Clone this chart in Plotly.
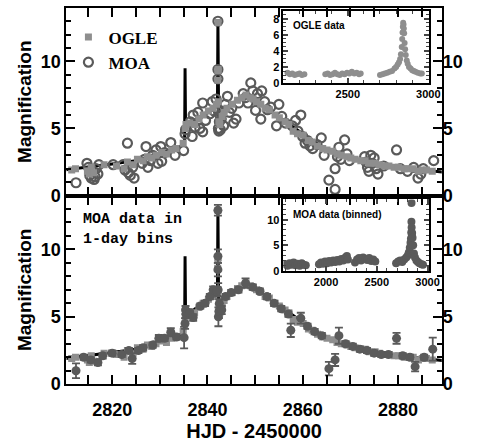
import plotly.graph_objects as go

# ---------------- data ----------------
model_x = [2810, 2815, 2820, 2825, 2828, 2831, 2834, 2835.2, 2835.3, 2835.4, 2837, 2839, 2841,
           2842.1, 2842.2, 2842.35, 2843, 2845, 2847, 2848.3, 2850, 2852, 2854, 2856, 2858,
           2860, 2862, 2865, 2868, 2872, 2876, 2880, 2884, 2889.5]
model_y = [1.9, 2.1, 2.35, 2.6, 2.9, 3.25, 3.6, 3.85, 9.5, 5.2, 5.5, 5.95, 6.4,
           6.8, 13.0, 5.7, 6.1, 6.8, 7.3, 7.45, 7.1, 6.6, 6.1, 5.6, 5.1,
           4.6, 4.1, 3.45, 3.0, 2.6, 2.3, 2.1, 1.95, 1.75]

ogle_x = [2811.5, 2812.3, 2814.8, 2815.2, 2815.6, 2816.1, 2818.3, 2820.9, 2822.5, 2823.2, 2824.4,
          2825.3, 2826.5, 2827.4, 2828.3, 2829.2, 2830.4, 2831.4, 2832.5, 2833.4, 2834.9, 2835.35,
          2835.5, 2836.3, 2837.3, 2838.2, 2839.1, 2840.2, 2841.2, 2841.9, 2842.15, 2842.18, 2842.22,
          2842.25, 2842.3, 2842.4, 2842.6, 2843.1, 2843.5, 2844.1, 2845.2, 2846.3, 2847.2, 2848.1,
          2849.0, 2849.6, 2850.3, 2851.2, 2852.1, 2853.0, 2854.2, 2855.1, 2856.3, 2857.1, 2858.0,
          2858.9, 2860.1, 2861.2, 2862.0, 2863.1, 2864.2, 2865.1, 2866.3, 2867.2, 2868.1, 2869.3,
          2870.1, 2871.0, 2872.2, 2873.1, 2874.0, 2875.2, 2876.1, 2877.3, 2878.1, 2879.2, 2880.1,
          2881.3, 2882.1, 2883.2, 2884.3, 2885.1, 2886.0, 2887.2]
ogle_y = [1.9, 2.0, 1.8, 1.6, 2.1, 1.7, 2.3, 2.2, 2.0, 2.5, 2.3,
          2.7, 2.6, 2.9, 2.8, 3.0, 3.2, 3.1, 3.4, 3.5, 3.9, 5.0,
          5.3, 5.4, 5.3, 5.7, 6.0, 6.3, 6.5, 6.8, 8.6, 9.3, 12.9,
          9.4, 7.0, 5.5, 5.3, 5.9, 6.2, 6.5, 6.8, 7.1, 7.3, 7.5,
          7.3, 7.2, 7.0, 6.8, 6.5, 6.4, 6.0, 5.8, 5.5, 5.3, 4.8,
          4.6, 4.5, 4.1, 4.0, 3.7, 3.5, 3.4, 3.3, 3.1, 3.0, 2.9,
          2.8, 2.7, 2.6, 2.6, 2.4, 2.4, 2.3, 2.2, 2.2, 2.1, 2.1,
          2.0, 2.0, 2.0, 1.8, 1.9, 1.9, 1.8]
OGLE_ERR = 0.15

moa_x = [2812.4, 2814.7, 2815.0, 2815.3, 2815.6, 2815.9, 2816.2, 2816.4, 2816.6, 2817.0, 2817.2,
         2820.2, 2822.3, 2822.7, 2823.2, 2823.4, 2823.8, 2824.3, 2824.6,
         2826.3, 2826.8, 2827.1, 2827.5, 2828.0, 2828.5, 2829.2, 2829.6, 2830.2, 2830.4, 2831.0,
         2832.3, 2833.2, 2835.0, 2835.3, 2835.4, 2836.4, 2836.8, 2837.0, 2837.4, 2838.0, 2838.4,
         2839.0, 2839.0, 2839.6, 2840.5, 2841.0, 2841.4, 2841.8, 2842.0, 2842.2, 2842.2, 2842.2,
         2842.3, 2842.4, 2842.5, 2842.6, 2842.7, 2842.9, 2843.1, 2843.4, 2843.7, 2844.2, 2844.6,
         2845.1, 2845.5, 2846.0, 2846.6, 2847.5, 2848.0, 2848.5, 2849.1, 2849.5, 2850.1, 2850.5,
         2851.2, 2851.4, 2852.0, 2852.6, 2853.3, 2854.5, 2855.0, 2855.6, 2856.4, 2857.8, 2858.5,
         2859.0, 2859.6, 2860.0, 2860.5, 2861.0, 2861.5, 2862.1, 2863.0, 2863.9, 2864.5, 2865.5,
         2866.8, 2866.8, 2867.3, 2867.6, 2868.0, 2868.8, 2869.3, 2869.8, 2873.0, 2873.3, 2873.6,
         2873.9, 2874.3, 2874.6, 2875.0, 2875.4, 2875.8, 2877.0, 2879.7, 2880.5, 2882.0, 2883.3,
         2884.2, 2884.8, 2885.3, 2887.5]
moa_y = [0.95, 2.4, 2.1, 1.5, 1.3, 1.8, 1.2, 1.4, 2.0, 1.6, 2.3,
         2.3, 2.3, 1.9, 3.9, 1.7, 1.5, 2.1, 1.3,
         2.4, 2.7, 3.65, 2.1, 2.6, 3.0, 3.4, 2.4, 3.65, 2.55, 3.2,
         3.95, 3.0, 3.35, 4.6, 4.9, 5.5, 4.4, 6.0, 5.1, 6.2, 5.0,
         6.9, 4.75, 5.6, 6.1, 7.0, 6.3, 7.2, 6.5, 13.0, 9.4, 8.7,
         5.0, 4.8, 5.5, 6.0, 4.9, 5.7, 6.3, 5.2, 6.8, 7.4, 6.2,
         6.5, 5.4, 5.7, 6.9, 7.6, 7.3, 6.9, 8.4, 7.8, 6.35, 7.6,
         5.7, 7.8, 7.0, 6.4, 6.6, 5.2, 6.8, 5.9, 5.4, 5.2, 5.6,
         4.8, 6.0, 4.4, 3.9, 4.1, 3.7, 3.5, 3.8, 4.3, 3.0, 1.15,
         2.0, 0.45, 2.9, 3.6, 2.7, 4.15, 3.1, 2.6, 2.9, 2.5, 2.1,
         1.8, 3.0, 2.4, 2.8, 2.0, 1.6, 2.2, 3.4, 2.0, 1.8, 2.1,
         1.3, 1.6, 2.0, 2.6]

moab_x = [2812.4, 2814.0, 2815.5, 2817.0, 2818.0, 2820.0, 2822.0, 2823.5, 2824.2, 2825.5, 2826.5,
          2828.5, 2829.8, 2831.0, 2832.3, 2833.5, 2835.1, 2835.3, 2835.4, 2835.5, 2836.3, 2837.0,
          2838.5, 2839.5, 2840.5, 2841.2, 2842.0, 2842.2, 2842.2, 2842.2, 2842.25, 2842.3, 2842.4,
          2842.5, 2843.0, 2843.8, 2845.0, 2846.5, 2848.0, 2849.5, 2851.0, 2852.5, 2854.0, 2855.5,
          2857.0, 2857.5, 2859.6, 2861.0, 2862.5, 2864.0, 2865.5, 2866.8, 2867.6, 2869.0, 2870.5,
          2872.0, 2873.5, 2875.0, 2876.5, 2878.0, 2879.7, 2881.0, 2882.5, 2883.6, 2885.5, 2887.3]
moab_y = [1.0, 2.0, 1.8, 1.6, 2.1, 2.3, 2.2, 2.5, 1.9, 2.5, 2.7,
          2.9, 3.4, 3.4, 3.85, 3.5, 3.45, 4.5, 5.5, 5.2, 5.3, 4.95,
          5.8, 6.0, 6.5, 7.0, 6.9, 12.9, 9.5, 8.5, 7.0, 5.0, 5.4,
          6.0, 5.5, 6.5, 6.8, 7.0, 7.5, 7.2, 6.9, 6.5, 6.0, 5.6,
          5.2, 4.0, 4.9, 4.3, 3.9, 3.6, 1.15, 1.8, 3.6, 3.0, 2.8,
          2.6, 2.5, 2.3, 2.2, 2.2, 3.4, 2.1, 2.0, 1.3, 2.0, 2.6]
moab_err = [0.55, 0.2, 0.2, 0.2, 0.2, 0.2, 0.2, 0.2, 0.4, 0.2, 0.2,
            0.2, 0.25, 0.2, 0.3, 0.2, 0.8, 0.4, 0.3, 0.3, 0.2, 0.25,
            0.2, 0.2, 0.2, 0.25, 0.3, 0.4, 0.5, 0.5, 0.5, 0.7, 0.5,
            0.3, 0.3, 0.2, 0.2, 0.2, 0.35, 0.2, 0.2, 0.2, 0.2, 0.2,
            0.2, 0.5, 0.4, 0.2, 0.2, 0.2, 0.5, 0.45, 0.6, 0.2, 0.2,
            0.2, 0.2, 0.2, 0.2, 0.2, 0.4, 0.2, 0.2, 0.35, 0.2, 0.85]

inset_ogle_x = [2125, 2140, 2155, 2170, 2185, 2200, 2215, 2230, 2360, 2375, 2390, 2405, 2420, 2435,
                2450, 2465, 2480, 2495, 2510, 2525, 2540, 2555, 2570, 2580, 2700, 2715, 2730, 2745,
                2760, 2775, 2790, 2800, 2810, 2818, 2825, 2830, 2835, 2838, 2840, 2842, 2844,
                2846, 2848, 2850, 2853, 2856, 2860, 2866, 2872, 2880, 2890, 2900, 2910, 2920,
                2935, 2950, 2960]
inset_ogle_y = [1.3, 1.1, 1.2, 1.0, 1.1, 1.2, 1.0, 1.1, 1.1, 1.2, 1.0, 1.1, 1.3, 1.1,
                1.0, 1.2, 1.1, 1.3, 1.2, 1.4, 1.2, 1.3, 1.1, 1.2, 1.0, 1.1, 1.2, 1.3,
                1.4, 1.5, 1.8, 2.0, 2.3, 2.6, 3.0, 3.6, 4.5, 5.5, 6.3, 7.0, 7.5,
                7.3, 6.8, 6.2, 5.0, 4.2, 3.5, 2.8, 2.4, 2.0, 1.8, 1.6, 1.5, 1.4,
                1.3, 1.2, 1.2]

inset_moa_x = [1600, 1620, 1640, 1660, 1680, 1700, 1720, 1740, 1760, 1780, 1800,
               1930, 1950, 1970, 1990, 2010, 2030, 2050, 2070, 2090, 2110, 2130, 2150, 2170,
               2190, 2205, 2215, 2285, 2305, 2325, 2345, 2365, 2385, 2405, 2425, 2445, 2465,
               2485, 2690, 2710, 2730, 2750, 2770, 2790, 2805, 2815, 2825, 2832, 2836, 2839,
               2841, 2842, 2843, 2845, 2848, 2852, 2858, 2866, 2876, 2890, 2905, 2920, 2940, 2955]
inset_moa_y = [1.3, 1.0, 1.5, 1.2, 1.6, 1.1, 1.4, 1.0, 1.5, 1.2, 1.1,
               1.3, 1.6, 1.4, 1.8, 1.5, 1.9, 1.6, 2.0, 1.7, 2.1, 1.8, 2.3, 2.0,
               2.6, 2.9, 2.2, 1.6, 2.2, 2.5, 2.0, 2.6, 2.3, 2.1, 2.5, 1.9, 2.2,
               1.8, 1.5, 1.8, 2.0, 1.7, 2.2, 2.6, 3.0, 3.6, 4.5, 5.5, 6.3, 7.5,
               9.6, 13.3, 8.5, 6.8, 7.4, 6.5, 5.0, 3.4, 2.6, 2.0, 1.7, 1.5, 1.3, 1.2]

# ---------------- styling ----------------
W, H = 487, 445
OGLE_C = "#8e8e8e"
MOA_C = "#5a5a5a"
SANS = "Liberation Sans"


def px_x(p):
    return p / W


def px_y(p):
    return 1 - p / H


fig = go.Figure()

# ---- top panel ----
fig.add_trace(go.Scatter(x=model_x, y=model_y, mode="lines", line=dict(color="black", width=3),
                         xaxis="x", yaxis="y", showlegend=False))
fig.add_trace(go.Scatter(x=moa_x, y=moa_y, mode="markers", name="<b>MOA</b>",
                         marker=dict(symbol="circle-open", size=9, color=MOA_C, line=dict(width=2.2)),
                         xaxis="x", yaxis="y"))
fig.add_trace(go.Scatter(x=ogle_x, y=ogle_y, mode="markers", name="<b>OGLE</b>",
                         marker=dict(symbol="square", size=7, color=OGLE_C),
                         error_y=dict(type="constant", value=OGLE_ERR, color=OGLE_C, thickness=1.2, width=2),
                         xaxis="x", yaxis="y"))

# ---- bottom panel ----
fig.add_trace(go.Scatter(x=model_x, y=model_y, mode="lines", line=dict(color="black", width=3),
                         xaxis="x2", yaxis="y2", showlegend=False))
fig.add_trace(go.Scatter(x=ogle_x, y=ogle_y, mode="markers",
                         marker=dict(symbol="square", size=7, color=OGLE_C),
                         error_y=dict(type="constant", value=OGLE_ERR, color=OGLE_C, thickness=1.2, width=2),
                         xaxis="x2", yaxis="y2", showlegend=False))
fig.add_trace(go.Scatter(x=moab_x, y=moab_y, mode="markers",
                         marker=dict(symbol="circle", size=9, color=MOA_C),
                         error_y=dict(type="data", array=moab_err, color=MOA_C, thickness=1.8, width=4),
                         xaxis="x2", yaxis="y2", showlegend=False))

# empty traces so the right-hand label axes get drawn
fig.add_trace(go.Scatter(x=[], y=[], xaxis="x", yaxis="y3", showlegend=False, hoverinfo="skip"))
fig.add_trace(go.Scatter(x=[], y=[], xaxis="x2", yaxis="y4", showlegend=False, hoverinfo="skip"))

# ---- insets ----
fig.add_trace(go.Scatter(x=inset_ogle_x, y=inset_ogle_y, mode="markers",
                         marker=dict(symbol="circle", size=6, color=OGLE_C),
                         xaxis="x5", yaxis="y5", showlegend=False))
fig.add_trace(go.Scatter(x=inset_moa_x, y=inset_moa_y, mode="markers",
                         marker=dict(symbol="circle", size=8, color=MOA_C),
                         xaxis="x6", yaxis="y6", showlegend=False))

main_xdom = [px_x(68), px_x(452)]
top_dom = [px_y(200), px_y(8)]
bot_dom = [px_y(393), px_y(200)]
inset_xdom = [px_x(290), px_x(439)]
ins1_dom = [px_y(85), px_y(11)]
ins2_dom = [px_y(277), px_y(204)]

tickfont = dict(family=SANS, size=18, color="black", weight="bold")
smallfont = dict(family=SANS, size=11, color="black", weight="bold")

xcommon = dict(range=[2810.4, 2889.2], domain=main_xdom, showline=True, linewidth=2, linecolor="black",
               mirror="allticks", ticks="inside", ticklen=9, tickwidth=2, tickcolor="black",
               tick0=2820, dtick=20, showgrid=False, zeroline=False,
               minor=dict(ticks="inside", ticklen=6, tickwidth=2, dtick=5, tick0=2810, tickcolor="black"))
ycommon = dict(range=[0, 14], showline=True, linewidth=2, linecolor="black", mirror="allticks",
               ticks="inside", ticklen=9, tickwidth=2, tickcolor="black", dtick=5, showgrid=False,
               zeroline=False, tickfont=tickfont,
               minor=dict(ticks="inside", ticklen=5, tickwidth=2, dtick=1, tickcolor="black"))

fig.update_layout(
    width=W, height=H, margin=dict(l=0, r=0, t=0, b=0),
    paper_bgcolor="white", plot_bgcolor="rgba(0,0,0,0)",
    xaxis=dict(**xcommon, anchor="y", showticklabels=False),
    yaxis=dict(**ycommon, domain=top_dom, anchor="x",
               title=dict(text="<b>Magnification</b>", font=dict(family=SANS, size=19, color="black"),
                          standoff=4)),
    xaxis2=dict(**xcommon, anchor="y2", tickfont=tickfont, ticklabelstandoff=8,
                title=dict(text="<b>HJD - 2450000</b>", font=dict(family=SANS, size=20, color="black"),
                           standoff=2)),
    yaxis2=dict(**ycommon, domain=bot_dom, anchor="x2",
                title=dict(text="<b>Magnification</b>", font=dict(family=SANS, size=19, color="black"),
                           standoff=4)),
    yaxis3=dict(range=[0, 14], overlaying="y", side="right", anchor="x", dtick=5, tickfont=tickfont,
                showgrid=False, zeroline=False, showline=False, ticks=""),
    yaxis4=dict(range=[0, 14], overlaying="y2", side="right", anchor="x2", dtick=5, tickfont=tickfont,
                showgrid=False, zeroline=False, showline=False, ticks=""),
    xaxis5=dict(range=[2100, 3005], domain=inset_xdom, anchor="y5", showline=True, linewidth=1.5,
                linecolor="black", mirror="allticks", ticks="inside", ticklen=5, tickwidth=1.5,
                tickvals=[2500, 3000], tickfont=smallfont, showgrid=False, zeroline=False,
                minor=dict(ticks="inside", ticklen=3, tickwidth=1, dtick=100, tick0=2100)),
    yaxis5=dict(range=[0, 9], domain=ins1_dom, anchor="x5", showline=True, linewidth=1.5,
                linecolor="black", mirror="allticks", ticks="inside", ticklen=5, tickwidth=1.5,
                dtick=2, tickfont=smallfont, showgrid=False, zeroline=False,
                minor=dict(ticks="inside", ticklen=3, tickwidth=1, dtick=0.5)),
    xaxis6=dict(range=[1580, 3015], domain=inset_xdom, anchor="y6", showline=True, linewidth=1.5,
                linecolor="black", mirror="allticks", ticks="inside", ticklen=5, tickwidth=1.5,
                tickvals=[2000, 2500, 3000], tickfont=smallfont, showgrid=False, zeroline=False,
                minor=dict(ticks="inside", ticklen=3, tickwidth=1, dtick=100, tick0=1600)),
    yaxis6=dict(range=[0, 14], domain=ins2_dom, anchor="x6", showline=True, linewidth=1.5,
                linecolor="black", mirror="allticks", ticks="inside", ticklen=5, tickwidth=1.5,
                dtick=5, tickfont=smallfont, showgrid=False, zeroline=False,
                minor=dict(ticks="inside", ticklen=3, tickwidth=1, dtick=1)),
    legend=dict(x=px_x(70), y=px_y(20), xanchor="left", yanchor="top", bgcolor="rgba(0,0,0,0)",
                font=dict(family="Liberation Serif", size=17, color="black"), traceorder="reversed",
                itemwidth=30, tracegroupgap=0),
    annotations=[
        dict(text="<b>MOA data in<br>1-day bins</b>", x=px_x(83), y=px_y(214), xref="paper", yref="paper",
             xanchor="left", yanchor="top", showarrow=False, align="left",
             font=dict(family="Liberation Mono", size=15, color="black")),
        dict(text="<b>OGLE data</b>", x=px_x(298), y=px_y(26), xref="paper", yref="paper",
             xanchor="left", yanchor="middle", showarrow=False,
             font=dict(family=SANS, size=10, color="black")),
        dict(text="<b>MOA data (binned)</b>", x=px_x(298), y=px_y(219), xref="paper", yref="paper",
             xanchor="left", yanchor="middle", showarrow=False,
             font=dict(family=SANS, size=10, color="black")),
    ],
)

fig.write_html("out.html")
